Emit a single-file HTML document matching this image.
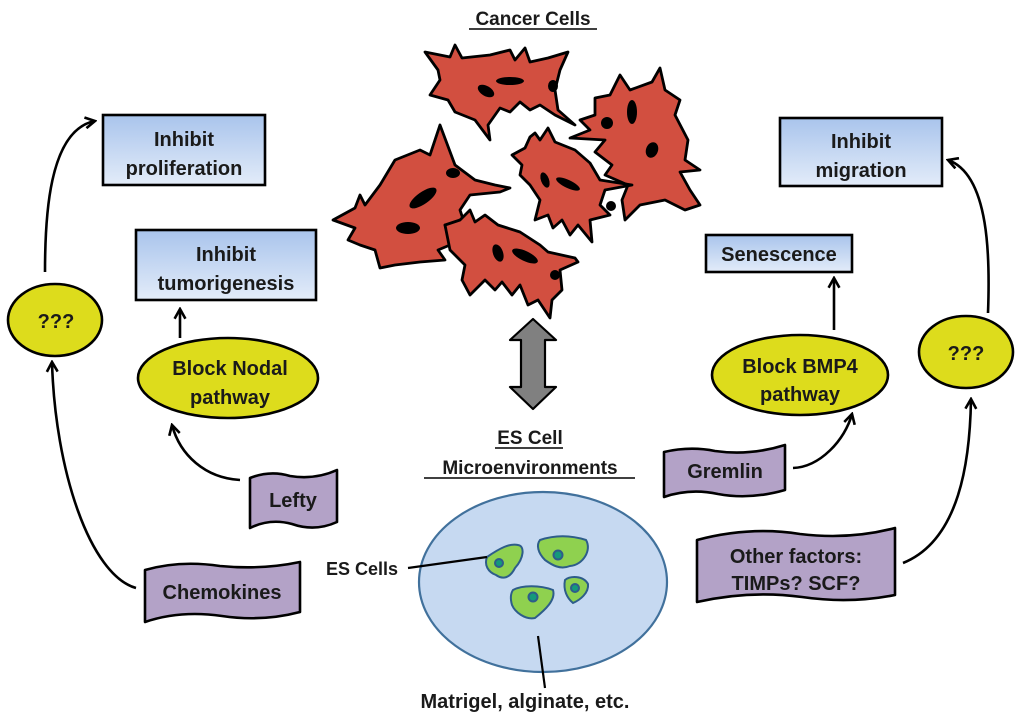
<!DOCTYPE html>
<html><head><meta charset="utf-8"><style>
html,body{margin:0;padding:0;background:#fff}
svg{display:block}
text{font-family:"Liberation Sans",sans-serif;font-weight:bold;fill:#1a1a1a}
</style></head><body>
<svg width="1024" height="721" viewBox="0 0 1024 721" xmlns="http://www.w3.org/2000/svg">
<defs>
<linearGradient id="bg" x1="0" y1="0" x2="0" y2="1"><stop offset="0" stop-color="#a9c4ec"/><stop offset="1" stop-color="#e3ecf9"/></linearGradient>
<marker id="ah" viewBox="0 0 12 12" refX="10" refY="6" markerWidth="13" markerHeight="13" markerUnits="userSpaceOnUse" orient="auto"><path d="M1,1 L10,6 L1,11" fill="none" stroke="#000" stroke-width="2.4"/></marker>
</defs>

<text x="533" y="25" font-size="19" text-anchor="middle">Cancer Cells</text>
<line x1="469" y1="29" x2="597" y2="29" stroke="#000" stroke-width="1.5"/>

<g fill="#d24f40" stroke="#000" stroke-width="2.8" stroke-linejoin="round">
<polygon points="425,52 450,57 455,45 462,58 490,55 510,50 515,60 525,48 530,62 548,58 568,52 560,70 555,90 558,110 575,125 555,115 540,105 530,110 520,102 510,112 500,108 488,125 490,140 475,120 470,118 455,112 448,100 430,95 440,80 438,70"/>
<polygon points="610,95 620,75 630,90 652,82 660,68 665,90 680,100 675,115 688,140 685,160 700,170 680,172 690,190 700,205 685,210 665,200 640,205 625,220 622,200 628,185 605,175 612,165 595,152 605,140 570,138 590,130 580,120 595,115 595,98"/>
<polygon points="512,155 525,148 530,137 535,133 540,140 548,128 555,142 575,150 590,163 600,180 632,185 605,190 600,205 610,215 590,220 592,242 578,225 570,235 562,220 553,228 548,215 535,220 540,200 530,185 520,175 522,165"/>
<polygon points="333,220 355,208 360,195 365,205 380,185 395,160 420,150 430,155 440,125 455,165 475,180 495,185 510,188 500,192 470,195 460,210 465,225 445,225 450,245 438,250 445,260 420,262 395,265 380,268 375,250 360,245 348,240 355,228"/>
<polygon points="445,225 460,220 470,210 475,222 485,215 498,225 520,232 540,245 548,252 575,258 578,262 560,270 562,290 552,300 550,318 538,300 528,305 520,285 512,295 502,282 495,290 485,280 470,295 462,280 465,265 450,250 448,240"/>
</g>
<g fill="#000">
<ellipse cx="510" cy="81" rx="14" ry="4"/>
<ellipse cx="486" cy="91" rx="9" ry="5" transform="rotate(30 486 91)"/>
<ellipse cx="553" cy="86" rx="5" ry="6"/>
<ellipse cx="632" cy="112" rx="5" ry="12"/>
<circle cx="607" cy="123" r="6"/>
<ellipse cx="652" cy="150" rx="6" ry="8" transform="rotate(20 652 150)"/>
<ellipse cx="568" cy="184" rx="13" ry="4" transform="rotate(25 568 184)"/>
<ellipse cx="545" cy="180" rx="4" ry="8" transform="rotate(-20 545 180)"/>
<circle cx="611" cy="206" r="5"/>
<ellipse cx="423" cy="198" rx="16" ry="6" transform="rotate(-35 423 198)"/>
<ellipse cx="408" cy="228" rx="12" ry="6"/>
<ellipse cx="453" cy="173" rx="7" ry="5"/>
<ellipse cx="498" cy="253" rx="5" ry="9" transform="rotate(-20 498 253)"/>
<ellipse cx="525" cy="256" rx="14" ry="5" transform="rotate(25 525 256)"/>
<circle cx="555" cy="275" r="5"/>
</g>

<polygon points="533,319 556,340 545,340 545,387 556,387 533,409 510,387 521,387 521,340 510,340" fill="#808080" stroke="#000" stroke-width="2.2" stroke-linejoin="round"/>

<text x="530" y="444" font-size="19" text-anchor="middle">ES Cell</text>
<line x1="495" y1="448" x2="563" y2="448" stroke="#000" stroke-width="1.5"/>
<text x="530" y="474" font-size="19" text-anchor="middle">Microenvironments</text>
<line x1="424" y1="478" x2="635" y2="478" stroke="#000" stroke-width="1.5"/>

<ellipse cx="543" cy="582" rx="124" ry="90" fill="#c6d9f1" stroke="#41719c" stroke-width="2.2"/>
<g fill="#8fd14f" stroke="#2e5d8a" stroke-width="2">
<path d="M487,557 C500,548 510,543 518,545 C525,546 524,558 515,568 C510,578 503,580 496,575 C488,572 484,565 487,557Z"/>
<path d="M540,540 C555,535 570,535 586,540 C592,550 583,565 570,566 C560,570 552,565 545,560 C538,553 536,545 540,540Z"/>
<path d="M513,590 C522,585 540,585 553,590 C556,600 545,610 535,618 C525,620 515,612 512,605 C510,598 511,593 513,590Z"/>
<path d="M565,580 C570,576 583,575 588,584 C589,593 580,600 573,603 C567,598 563,590 565,580Z"/>
</g>
<g fill="#139a7a" stroke="#2e5d8a" stroke-width="2">
<circle cx="499" cy="563" r="4"/><circle cx="558" cy="555" r="4.5"/><circle cx="533" cy="597" r="4.5"/><circle cx="575" cy="588" r="4"/>
</g>
<line x1="408" y1="568" x2="487" y2="557" stroke="#000" stroke-width="2.2"/>
<text x="326" y="575" font-size="18">ES Cells</text>
<line x1="538" y1="636" x2="545" y2="688" stroke="#000" stroke-width="2.2"/>
<text x="525" y="708" font-size="20" text-anchor="middle">Matrigel, alginate, etc.</text>

<g stroke="#000" stroke-width="2.6" fill="url(#bg)">
<rect x="103" y="115" width="162" height="70"/>
<rect x="136" y="230" width="180" height="70"/>
<rect x="780" y="118" width="162" height="68"/>
<rect x="706" y="235" width="146" height="37"/>
</g>
<g font-size="20" text-anchor="middle">
<text x="184" y="146">Inhibit</text><text x="184" y="175">proliferation</text>
<text x="226" y="261">Inhibit</text><text x="226" y="290">tumorigenesis</text>
<text x="861" y="148">Inhibit</text><text x="861" y="177">migration</text>
<text x="779" y="261">Senescence</text>
</g>

<g fill="#dddc1c" stroke="#000" stroke-width="2.6">
<ellipse cx="55" cy="320" rx="47" ry="36"/>
<ellipse cx="228" cy="378" rx="90" ry="40"/>
<ellipse cx="800" cy="375" rx="88" ry="40"/>
<ellipse cx="966" cy="352" rx="47" ry="36"/>
</g>
<g font-size="20" text-anchor="middle">
<text x="56" y="328" font-weight="normal">???</text>
<text x="230" y="375">Block Nodal</text><text x="230" y="404">pathway</text>
<text x="800" y="373">Block BMP4</text><text x="800" y="401">pathway</text>
<text x="966" y="360" font-weight="normal">???</text>
</g>

<g fill="#b3a2c7" stroke="#000" stroke-width="2.6" stroke-linejoin="round">
<path d="M250,478 Q270,470 290,476 Q315,480 337,470 L337,522 Q315,532 292,524 Q270,518 250,528 Z"/>
<path d="M145,570 Q180,560 220,566 Q262,570 300,562 L300,612 Q262,622 222,616 Q180,610 145,622 Z"/>
<path d="M664,452 Q690,446 715,451 Q750,456 785,445 L785,490 Q750,500 718,494 Q690,488 664,497 Z"/>
<path d="M697,540 Q750,526 800,534 Q850,540 895,528 L895,595 Q850,604 802,597 Q750,590 697,602 Z"/>
</g>
<g font-size="20" text-anchor="middle">
<text x="293" y="507">Lefty</text>
<text x="222" y="599">Chemokines</text>
<text x="725" y="478">Gremlin</text>
<text x="796" y="563">Other factors:</text>
<text x="796" y="590">TIMPs? SCF?</text>
</g>

<g fill="none" stroke="#000" stroke-width="2.6" marker-end="url(#ah)">
<path d="M45,272 C45,220 48,130 95,121"/>
<path d="M136,588 C90,575 55,470 52,362"/>
<path d="M180,338 L180,309"/>
<path d="M240,480 C205,478 180,455 172,425"/>
<path d="M834,330 L834,278"/>
<path d="M793,468 C820,467 845,440 852,414"/>
<path d="M903,563 C960,540 970,460 971,399"/>
<path d="M988,313 C990,260 990,175 948,160"/>
</g>
</svg>
</body></html>
